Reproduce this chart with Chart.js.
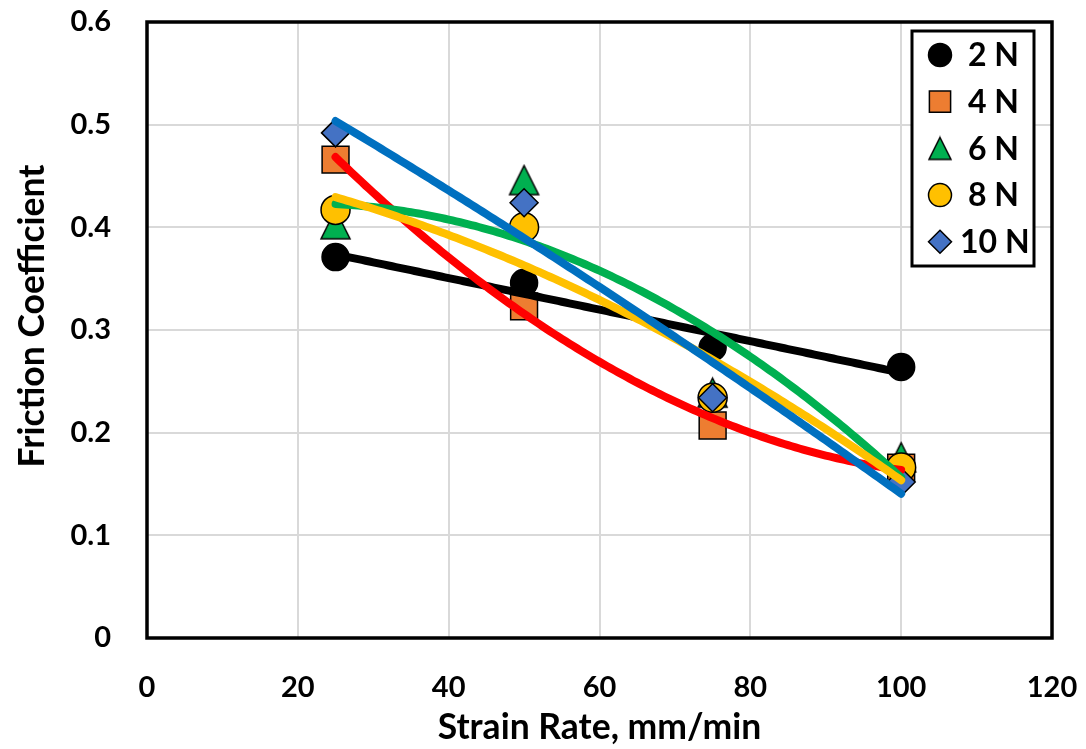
<!DOCTYPE html>
<html>
<head>
<meta charset="utf-8">
<title>Friction Coefficient vs Strain Rate</title>
<script src="https://cdn.jsdelivr.net/npm/chart.js@4.4.1/dist/chart.umd.min.js"></script>
<style>
  html, body { margin: 0; padding: 0; background: #fff; }
  #wrap { width: 1086px; height: 749px; }
</style>
</head>
<body>
<div id="wrap"><canvas id="frictionChart" width="1086" height="749"></canvas></div>
<script>
// Measured friction coefficients per normal load
const strainRate = [25, 50, 75, 100];
const loadLabels = ['2 N', '4 N', '6 N', '8 N', '10 N'];
const cof2N  = [0.371, 0.346, 0.283, 0.264];
const cof4N  = [0.466, 0.323, 0.207, 0.166];
const cof6N  = [0.403, 0.446, 0.239, 0.176];
const cof8N  = [0.417, 0.400, 0.234, 0.166];
const cof10N = [0.492, 0.424, 0.234, 0.152];
// trendline order per load (linear for 2 N, quadratic for the rest)
const fitOrder = [1, 2, 2, 2, 2];

const xTicks = [0, 20, 40, 60, 80, 100, 120];
const yTicks = [0, 0.1, 0.2, 0.3, 0.4, 0.5, 0.6];

const FONT = 'Lato, "Open Sans", "Liberation Sans", sans-serif';

// least squares polynomial fit, returns coefficients c0..cn
function polyFit(xs, ys, n) {
	const m = n + 1;
	const A = [];
	for (let r = 0; r < m; r++) {
		A.push(new Array(m + 1).fill(0));
	}
	for (let k = 0; k < xs.length; k++) {
		for (let r = 0; r < m; r++) {
			for (let c = 0; c < m; c++) A[r][c] += Math.pow(xs[k], r + c);
			A[r][m] += ys[k] * Math.pow(xs[k], r);
		}
	}
	for (let i = 0; i < m; i++) {
		for (let j = i + 1; j < m; j++) {
			const f = A[j][i] / A[i][i];
			for (let c = i; c <= m; c++) A[j][c] -= f * A[i][c];
		}
	}
	const coef = new Array(m).fill(0);
	for (let i = m - 1; i >= 0; i--) {
		let s = A[i][m];
		for (let c = i + 1; c < m; c++) s -= A[i][c] * coef[c];
		coef[i] = s / A[i][i];
	}
	return coef;
}

function trendPoints(ys, n) {
	const coef = polyFit(strainRate, ys, n);
	const pts = [];
	const x0 = strainRate[0], x1 = strainRate[strainRate.length - 1];
	for (let x = x0; x <= x1 + 1e-9; x += 0.5) {
		let y = 0;
		for (let i = 0; i < coef.length; i++) y += coef[i] * Math.pow(x, i);
		pts.push({ x: x, y: y });
	}
	return pts;
}

// triangle marker centred on its bounding box
function trianglePoint(w, h, fill) {
	const c = document.createElement('canvas');
	c.width = w + 4;
	c.height = h + 4;
	const g = c.getContext('2d');
	g.beginPath();
	g.moveTo(2 + w / 2, 2);
	g.lineTo(2 + w, 2 + h);
	g.lineTo(2, 2 + h);
	g.closePath();
	g.fillStyle = fill;
	g.fill();
	g.lineWidth = 1.5;
	g.strokeStyle = '#000';
	g.lineJoin = 'miter';
	g.stroke();
	return c;
}

const seriesValues = [cof2N, cof4N, cof6N, cof8N, cof10N];
const markerFill = ['#000000', '#ED7D31', '#00B050', '#FFC000', '#4472C4'];
const lineColor = ['#000000', '#FF0000', '#00B050', '#FFC000', '#0070C0'];
const markerStyle = ['circle', 'rect', trianglePoint(29, 29, '#00B050'), 'circle', 'rectRot'];
const markerRadius = [13.5, 19, 15, 14.5, 14];
const legendStyle = ['circle', 'rect', trianglePoint(22, 22, '#00B050'), 'circle', 'rectRot'];
const legendRadius = [11.5, 15, 11, 11.5, 11.5];

const datasets = [];
seriesValues.forEach((vals, i) => {
	datasets.push({
		label: loadLabels[i],
		data: strainRate.map((x, k) => ({ x: x, y: vals[k] })),
		showLine: false,
		pointStyle: markerStyle[i],
		pointRadius: markerRadius[i],
		pointBackgroundColor: markerFill[i],
		pointBorderColor: '#000000',
		pointBorderWidth: 1.5,
		order: 10 - i
	});
});
seriesValues.forEach((vals, i) => {
	datasets.push({
		label: 'trend ' + loadLabels[i],
		data: trendPoints(vals, fitOrder[i]),
		showLine: true,
		borderColor: lineColor[i],
		borderWidth: 8,
		borderCapStyle: 'round',
		borderJoinStyle: 'round',
		pointRadius: 0,
		fill: false,
		order: 5 - i
	});
});

// black frame round the plot area
const frame = {
	id: 'frame',
	afterDatasetsDraw(chart) {
		const a = chart.chartArea;
		const ctx = chart.ctx;
		ctx.save();
		ctx.strokeStyle = '#000';
		ctx.lineWidth = 3.5;
		ctx.strokeRect(a.left, a.top, a.right - a.left, a.bottom - a.top);
		ctx.restore();
	}
};

// vertical axis title, drawn beside the tick labels
const yTitle = {
	id: 'yTitle',
	afterDraw(chart) {
		const ctx = chart.ctx;
		ctx.save();
		ctx.translate(33, 316);
		ctx.rotate(-Math.PI / 2);
		ctx.font = 'bold 35.5px ' + FONT;
		ctx.fillStyle = '#000';
		ctx.textAlign = 'center';
		ctx.textBaseline = 'middle';
		ctx.fillText('Friction Coefficient', 0, 0);
		ctx.restore();
	}
};

// boxed legend inside the plot, top right
const boxLegend = {
	id: 'boxLegend',
	afterDraw(chart) {
		const a = chart.chartArea;
		const ctx = chart.ctx;
		const w = 122, h = 235;
		const left = a.right - 18 - w;
		const top = a.top + 9;
		ctx.save();
		ctx.fillStyle = '#fff';
		ctx.fillRect(left, top, w, h);
		ctx.strokeStyle = '#000';
		ctx.lineWidth = 3;
		ctx.strokeRect(left, top, w, h);
		ctx.font = 'bold 32px ' + FONT;
		ctx.textBaseline = 'middle';
		ctx.textAlign = 'left';
		loadLabels.forEach((lab, i) => {
			const cy = top + 24 + i * 46.7;
			ctx.fillStyle = markerFill[i];
			ctx.strokeStyle = '#000';
			ctx.lineWidth = 1.5;
			Chart.helpers.drawPoint(ctx, {
				pointStyle: legendStyle[i],
				radius: legendRadius[i],
				rotation: 0,
				borderWidth: 1.5
			}, left + 28, cy);
			ctx.fillStyle = '#000';
			ctx.fillText(lab, left + (lab.length > 3 ? 48 : 56), cy + 1);
		});
		ctx.restore();
	}
};

const tickFont = { family: FONT, size: 29, weight: 'bold' };
const titleFont = { family: FONT, size: 35.5, weight: 'bold' };

new Chart(document.getElementById('frictionChart').getContext('2d'), {
	type: 'scatter',
	data: { datasets: datasets },
	options: {
		responsive: false,
		animation: false,
		layout: { padding: { left: 0, top: 22, right: 34, bottom: 0 } },
		plugins: {
			legend: { display: false },
			tooltip: { enabled: false }
		},
		scales: {
			x: {
				type: 'linear',
				min: xTicks[0],
				max: xTicks[xTicks.length - 1],
				afterBuildTicks: s => { s.ticks = xTicks.map(v => ({ value: v })); },
				afterFit: s => {
					s.height = 111;
					s.paddingLeft = 0;
					s.paddingRight = 0;
				},
				grid: { color: '#D9D9D9', lineWidth: 2, drawTicks: false },
				border: { display: false },
				ticks: { color: '#000', font: tickFont, padding: 32, maxRotation: 0 },
				title: {
					display: true,
					text: 'Strain Rate, mm/min',
					color: '#000',
					font: titleFont,
					padding: { top: 0, bottom: 0 }
				}
			},
			y: {
				type: 'linear',
				min: yTicks[0],
				max: yTicks[yTicks.length - 1],
				afterBuildTicks: s => { s.ticks = yTicks.map(v => ({ value: v })); },
				afterFit: s => {
					s.width = 147;
					s.paddingTop = 0;
					s.paddingBottom = 0;
				},
				grid: { color: '#D9D9D9', lineWidth: 2, drawTicks: false },
				border: { display: false },
				ticks: {
					color: '#000',
					font: tickFont,
					padding: 36,
					callback: v => String(+v.toFixed(1))
				}
			}
		}
	},
	plugins: [frame, yTitle, boxLegend]
});
</script>
</body>
</html>
